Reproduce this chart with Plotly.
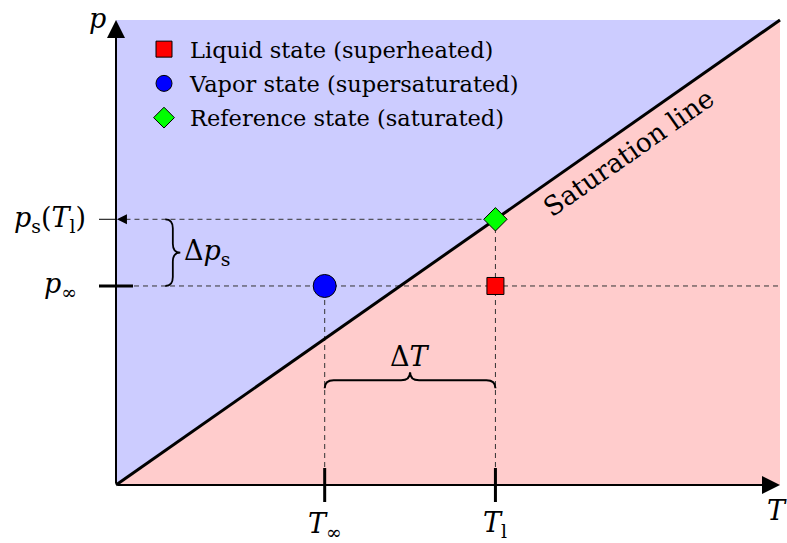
import plotly.graph_objects as go

# ---- data ----
T_max = 7.0
p_max = 5.0
T_inf = 2.2
T_l = 4.0
p_inf = 2.14
p_s = T_l * p_max / T_max  # saturation pressure at T_l (on the line)

sat_T = [0.0, T_max]
sat_p = [0.0, p_max]

state_names = ["Liquid state (superheated)", "Vapor state (supersaturated)", "Reference state (saturated)"]
state_T = [T_l, T_inf, T_l]
state_p = [p_inf, p_inf, p_s]
state_symbols = ["square", "circle", "diamond"]
state_colors = ["#ff0000", "#0000ff", "#00ff00"]
state_sizes = [17, 23, 18]

W, H = 787, 543
ox, oy = 116, 485
right, top = 780, 20
sx = (right - ox) / T_max
sy = (oy - top) / p_max
x_range = [-ox / sx, (W - ox) / sx]
y_range = [-(H - oy) / sy, oy / sy]

SERIF = "DejaVu Serif"
FS = 22.5     # legend text
MS = 27       # math labels
BLUE_FILL = "rgb(204,204,255)"
RED_FILL = "rgb(255,204,204)"
DASH = "5px,4px"
DCOL = "#333333"

fig = go.Figure()

shapes = []
# regions
shapes.append(dict(type="path", xref="x", yref="y", layer="below",
                   path=f"M 0,0 L 0,{p_max} L {T_max},{p_max} Z",
                   fillcolor=BLUE_FILL, line=dict(width=0)))
shapes.append(dict(type="path", xref="x", yref="y", layer="below",
                   path=f"M 0,0 L {T_max},0 L {T_max},{p_max} Z",
                   fillcolor=RED_FILL, line=dict(width=0)))
# dashed guide lines
shapes.append(dict(type="line", xref="x", yref="y", layer="below", x0=0, x1=T_max, y0=p_inf, y1=p_inf,
                   line=dict(color=DCOL, width=1, dash=DASH)))
shapes.append(dict(type="line", xref="x", yref="y", layer="below", x0=0.1, x1=T_l, y0=p_s, y1=p_s,
                   line=dict(color=DCOL, width=1, dash=DASH)))
shapes.append(dict(type="line", xref="x", yref="y", layer="below", x0=T_inf, x1=T_inf, y0=0, y1=p_inf,
                   line=dict(color=DCOL, width=1, dash=DASH)))
shapes.append(dict(type="line", xref="x", yref="y", layer="below", x0=T_l, x1=T_l, y0=0, y1=p_s,
                   line=dict(color=DCOL, width=1, dash=DASH)))
# ticks
tx = 17 / sx
ty = 17 / sy
for t in [T_inf, T_l]:
    shapes.append(dict(type="line", xref="x", yref="y", x0=t, x1=t, y0=-ty, y1=ty,
                       line=dict(color="black", width=3)))
shapes.append(dict(type="line", xref="x", yref="y", x0=-tx, x1=tx, y0=p_inf, y1=p_inf,
                   line=dict(color="black", width=3)))
shapes.append(dict(type="line", xref="x", yref="y", x0=-tx, x1=0, y0=p_s, y1=p_s,
                   line=dict(color="black", width=1)))


# braces
def brace_h(x1, x2, y0, amp, r):
    xm = (x1 + x2) / 2
    h = y0 + amp / 2
    return (f"M {x1},{y0} Q {x1},{h} {x1 + r},{h} L {xm - r},{h} Q {xm},{h} {xm},{y0 + amp} "
            f"Q {xm},{h} {xm + r},{h} L {x2 - r},{h} Q {x2},{h} {x2},{y0}")


def brace_v(y1, y2, x0, amp, r):
    ym = (y1 + y2) / 2
    w = x0 + amp / 2
    return (f"M {x0},{y1} Q {w},{y1} {w},{y1 + r} L {w},{ym - r} Q {w},{ym} {x0 + amp},{ym} "
            f"Q {w},{ym} {w},{ym + r} L {w},{y2 - r} Q {w},{y2} {x0},{y2}")


shapes.append(dict(type="path", xref="x", yref="y",
                   path=brace_h(T_inf, T_l, 1.04, 16 / sy, 9 / sx),
                   line=dict(color="black", width=2)))
shapes.append(dict(type="path", xref="x", yref="y",
                   path=brace_v(p_inf, p_s, 0.52, 15 / sx, 9 / sy),
                   line=dict(color="black", width=1.8)))

# saturation line
fig.add_trace(go.Scatter(x=sat_T, y=sat_p, mode="lines", line=dict(color="black", width=3),
                         showlegend=False, hoverinfo="skip"))

# states
for name, t, p, sym, col, sz in zip(state_names, state_T, state_p, state_symbols, state_colors, state_sizes):
    fig.add_trace(go.Scatter(x=[t], y=[p], mode="markers", name=name, legendgroup=name,
                             marker=dict(symbol=sym, color=col, size=sz,
                                         line=dict(color="black", width=1))))

annotations = []
# axes with arrows
annotations.append(dict(x=T_max, y=0, ax=0, ay=0, xref="x", yref="y", axref="x", ayref="y",
                        text="", showarrow=True, arrowhead=2, arrowsize=1.8, arrowwidth=2,
                        arrowcolor="black"))
annotations.append(dict(x=0, y=p_max, ax=0, ay=0, xref="x", yref="y", axref="x", ayref="y",
                        text="", showarrow=True, arrowhead=2, arrowsize=1.8, arrowwidth=2,
                        arrowcolor="black"))
# small arrow head on p_s dashed line
annotations.append(dict(x=0.01, y=p_s, ax=0.12, ay=p_s, xref="x", yref="y", axref="x", ayref="y",
                        text="", showarrow=True, arrowhead=2, arrowsize=2, arrowwidth=1,
                        arrowcolor="black"))

F = dict(family=SERIF, size=MS, color="black")
annotations += [
    dict(x=-0.2, y=5.02, text="<i>p</i>", showarrow=False, font=F, xanchor="center", yanchor="middle"),
    dict(x=6.97, y=-0.27, text="<i>T</i>", showarrow=False, font=F, xanchor="center", yanchor="middle"),
    dict(x=T_inf, y=-0.44, text="<i>T</i><sub>∞</sub>", showarrow=False, font=F, xanchor="center", yanchor="middle"),
    dict(x=T_l, y=-0.42, text="<i>T</i><sub>l</sub>", showarrow=False, font=F, xanchor="center", yanchor="middle"),
    dict(x=-0.39, y=p_inf, text="<i>p</i><sub>∞</sub>", showarrow=False, font=F, xanchor="right", yanchor="middle"),
    dict(x=-0.30, y=p_s, text="<i>p</i><sub>s</sub>(<i>T</i><sub>l</sub>)", showarrow=False, font=F,
         xanchor="right", yanchor="middle"),
    dict(x=0.70, y=(p_inf + p_s) / 2, text="Δ<i>p</i><sub>s</sub>", showarrow=False, font=F,
         xanchor="left", yanchor="middle"),
    dict(x=(T_inf + T_l) / 2, y=1.38, text="Δ<i>T</i>", showarrow=False, font=F,
         xanchor="center", yanchor="middle"),
    dict(x=5.4, y=3.58, text="Saturation line", showarrow=False,
         font=dict(family=SERIF, size=26.5, color="black"), textangle=-35,
         xanchor="center", yanchor="middle"),
]
for a in annotations:
    a.setdefault("xref", "x")
    a.setdefault("yref", "y")

fig.update_layout(
    width=W, height=H,
    margin=dict(l=0, r=0, t=0, b=0),
    paper_bgcolor="white", plot_bgcolor="white",
    xaxis=dict(range=x_range, visible=False, fixedrange=True),
    yaxis=dict(range=y_range, visible=False, fixedrange=True),
    shapes=shapes,
    annotations=annotations,
    showlegend=True,
    legend=dict(x=138 / W, y=1 - 28 / H, xanchor="left", yanchor="top",
                bgcolor="rgba(0,0,0,0)", font=dict(family=SERIF, size=FS, color="black"),
                itemwidth=42, tracegroupgap=2),
    font=dict(family=SERIF),
)

fig.write_html("out.html",
               config={"displayModeBar": False},
               post_script="document.body.style.margin='0';document.body.style.overflow='hidden';")
